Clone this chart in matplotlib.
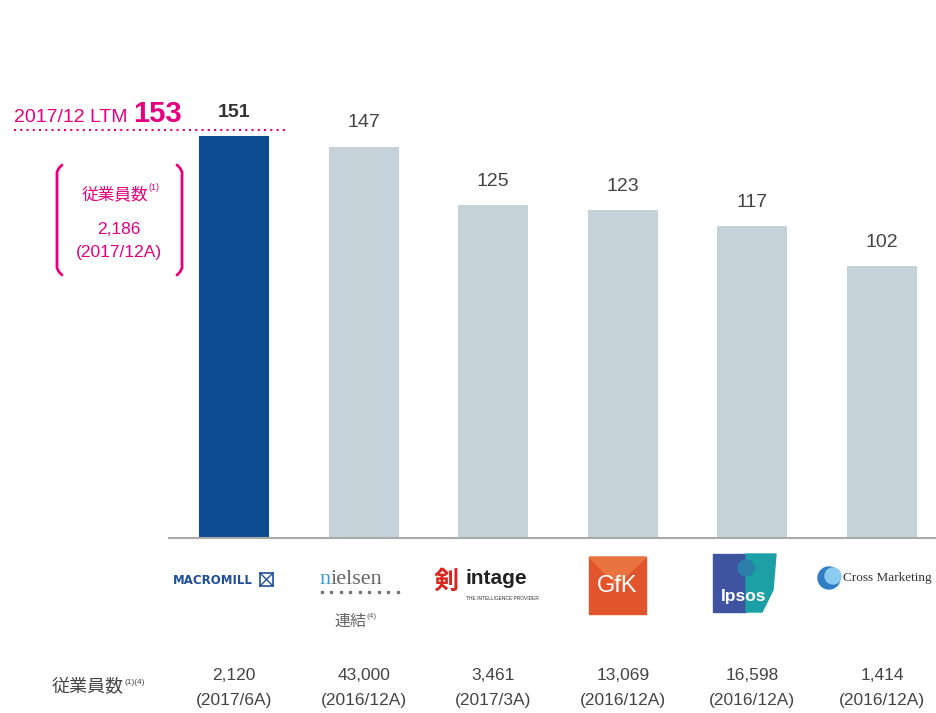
import matplotlib
matplotlib.use("Agg")
import matplotlib.pyplot as plt
from matplotlib.patches import Rectangle, Polygon, Circle

plt.rcParams["font.family"] = ["Liberation Sans", "Noto Sans CJK JP", "DejaVu Sans"]

# data
companies = ["Macromill", "Nielsen", "Intage", "GfK", "Ipsos", "Cross Marketing"]
revenue_per_head = [151, 147, 125, 123, 117, 102]
employees = ["2,120", "43,000", "3,461", "13,069", "16,598", "1,414"]
periods = ["(2017/6A)", "(2016/12A)", "(2017/3A)", "(2016/12A)", "(2016/12A)", "(2016/12A)"]
ltm_value = 153
macromill_staff = "2,186"
macromill_staff_period = "(2017/12A)"

MAGENTA = "#E4007F"
BLUE = "#0D4C92"
GREY_BAR = "#C6D2DA"
TXT = "#444444"

W, H = 937, 713
fig = plt.figure(figsize=(W / 100, H / 100), dpi=100)

# main axes: x = company index, y = value (scaled so bars sit on the pixel baseline)
x0_px, step_px = 234, 129.6
base_px, px_per_unit = 537, 401 / 151
ax = fig.add_axes([0, 0, 1, 1])
ax.set_xlim(-x0_px / step_px, (W - x0_px) / step_px)
ax.set_ylim(-(H - base_px) / px_per_unit, base_px / px_per_unit)
ax.axis("off")

xs = list(range(len(companies)))
colors = [BLUE] + [GREY_BAR] * (len(companies) - 1)
ax.bar(xs, revenue_per_head, width=70 / step_px, color=colors, zorder=2)
for i, v in enumerate(revenue_per_head):
    ax.text(i, v + 9.0, str(v), ha="center", va="center", fontsize=14,
            fontweight="bold" if i == 0 else "normal",
            color="#333333" if i == 0 else TXT)

# overlay in pixel coords for annotations / logos
ov = fig.add_axes([0, 0, 1, 1], zorder=5)
ov.set_xlim(0, W)
ov.set_ylim(H, 0)
ov.axis("off")

# baseline
ov.plot([169, 937], [538, 538], color="#AAAAAA", lw=1.5, zorder=1)

# LTM line
ov.text(14, 117, "2017/12 LTM", color=MAGENTA, fontsize=14, va="center", ha="left")
ov.text(133, 114, str(ltm_value), color=MAGENTA, fontsize=21, fontweight="bold",
        va="center", ha="left")
ov.plot([14, 289], [130, 130], color=MAGENTA, lw=1.5, linestyle=(0, (1, 2)))

# bracket with staff count
def bracket(x, sign):
    ys = [165, 168, 172, 268, 272, 275]
    xs_b = [x + 5 * sign, x + 2 * sign, x, x, x + 2 * sign, x + 5 * sign]
    ov.plot(xs_b, ys, color=MAGENTA, lw=2, solid_capstyle="round")

bracket(57, 1)
bracket(182, -1)
ov.text(148, 194, "従業員数", color=MAGENTA, fontsize=12, ha="right", va="center")
ov.text(149, 188, "(1)", color=MAGENTA, fontsize=6.5, ha="left", va="center")
ov.text(119, 230, macromill_staff, color=MAGENTA, fontsize=12.5, ha="center", va="center")
ov.text(119, 253, macromill_staff_period, color=MAGENTA, fontsize=12.5, ha="center", va="center")

# logos (approximations)
# Macromill
ov.text(173, 580, "MACROMILL", color="#1F4E9A", fontsize=8.5, fontweight="bold",
        family="DejaVu Sans", ha="left", va="center")
ov.add_patch(Rectangle((260, 573), 13, 13, fill=False, edgecolor="#1F4E9A", lw=1.2))
ov.plot([260, 273], [573, 586], color="#1F4E9A", lw=1)
ov.plot([260, 273], [586, 573], color="#1F4E9A", lw=1)
# nielsen
ov.text(331, 580, "n", color="#3A9BD5", fontsize=16, family="Liberation Serif",
        ha="right", va="center")
ov.text(331, 580, "ielsen", color="#666666", fontsize=16, family="Liberation Serif",
        ha="left", va="center")
ov.plot([322 + 9.5 * k for k in range(9)], [592] * 9, "s", color="#777777", ms=1.5)
ov.text(350, 621, "連結", color="#666666", fontsize=11.5, ha="center", va="center")
ov.text(367, 617, "(4)", color="#666666", fontsize=6, ha="left", va="center")
# intage
ov.text(446, 582, "剣", color="#D7261E", fontsize=18, fontweight="bold",
        ha="center", va="center")
ov.text(466, 578, "intage", color="#222222", fontsize=15, fontweight="bold",
        ha="left", va="center")
ov.text(502, 598, "THE INTELLIGENCE PROVIDER", color="#333333", fontsize=3.5,
        ha="center", va="center")
# GfK
ov.add_patch(Rectangle((589, 557), 57, 57, color="#E1552D"))
ov.add_patch(Polygon([[589, 557], [646, 557], [617, 585]], color="#E97440"))
ov.text(617, 586, "GfK", color="white", fontsize=17, ha="center", va="center")
# Ipsos
ov.add_patch(Rectangle((713, 554), 33, 58, color="#3F54A0"))
ov.add_patch(Polygon([[746, 554], [776, 554], [773, 590], [762, 612], [746, 612]],
                     color="#1AA0A5"))
ov.add_patch(Circle((746, 568), 8, color="#2B7FA8"))
ov.text(744, 597, "Ipsos", color="white", fontsize=12.5, fontweight="bold",
        ha="center", va="center")
# Cross Marketing
ov.add_patch(Circle((829, 578), 11, color="#2F7EC4"))
ov.add_patch(Circle((833, 576), 8, color="#8CCBF0"))
ov.text(843, 578, "Cross Marketing", color="#333333", fontsize=9.5,
        family="Liberation Serif", ha="left", va="center")

# bottom rows
ov.text(124, 688, "従業員数", color=TXT, fontsize=13, ha="right", va="center")
ov.text(125, 683, "(1)(4)", color=TXT, fontsize=6, ha="left", va="center")
for i in xs:
    lx = x0_px + step_px * i
    ov.text(lx, 675, employees[i], color=TXT, fontsize=12.5, ha="center", va="center")
    ov.text(lx, 700, periods[i], color=TXT, fontsize=12.5, ha="center", va="center")

fig.savefig("out.png", dpi=100, facecolor="white")
